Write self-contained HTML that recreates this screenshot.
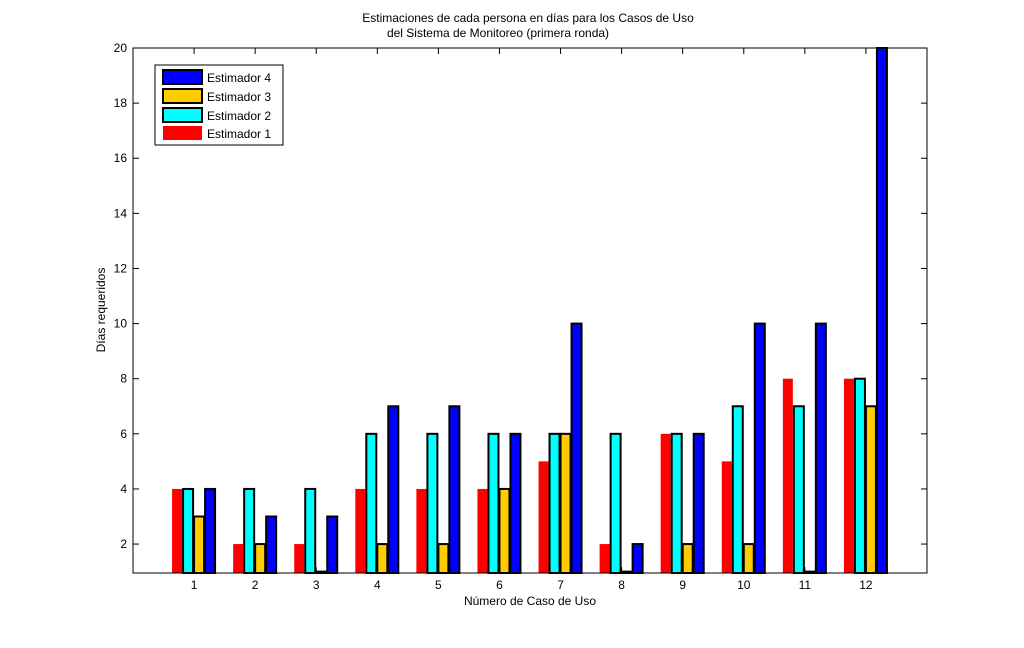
<!DOCTYPE html>
<html><head><meta charset="utf-8"><style>
body{margin:0;background:#fff;}
text{font-family:"Liberation Sans",sans-serif;font-size:12px;fill:#000;}
</style></head><body>
<svg id="chart" width="1024" height="643" xmlns="http://www.w3.org/2000/svg">
<rect width="1024" height="643" fill="#fff"/>
<text x="528" y="22" text-anchor="middle">Estimaciones de cada persona en días para los Casos de Uso</text>
<text x="498" y="37" text-anchor="middle">del Sistema de Monitoreo (primera ronda)</text>
<g id="bars"></g>
<g id="axes"></g>
<text x="530" y="605" text-anchor="middle">Número de Caso de Uso</text>
<text transform="translate(105,310) rotate(-90)" text-anchor="middle">Días requeridos</text>
<g>
<rect x="155" y="65" width="128" height="80" fill="#fff" stroke="#000" stroke-width="1"/>
<rect x="163" y="70" width="39" height="14" fill="#0000ff" stroke="#000" stroke-width="2"/>
<text x="207" y="82">Estimador 4</text>
<rect x="163" y="89" width="39" height="14" fill="#ffcc00" stroke="#000" stroke-width="2"/>
<text x="207" y="101">Estimador 3</text>
<rect x="163" y="108" width="39" height="14" fill="#00ffff" stroke="#000" stroke-width="2"/>
<text x="207" y="120">Estimador 2</text>
<rect x="163" y="126" width="39" height="14" fill="#ff0000"/>
<text x="207" y="138">Estimador 1</text>
</g>
</svg>
<script>
const categories=[1,2,3,4,5,6,7,8,9,10,11,12];
const est1=[4,2,2,4,4,4,5,2,6,5,8,8];
const est2=[4,4,4,6,6,6,6,6,6,7,7,8];
const est3=[3,2,1,2,2,4,6,1,2,2,1,7];
const est4=[4,3,3,7,7,6,10,2,6,10,10,20];
const yTicks=[2,4,6,8,10,12,14,16,18,20];
const L=133,R=927,T=48,B=573;
const xs=v=>L+(v-0)/(13-0)*(R-L);
const ys=v=>B-(v-0.95)/(20-0.95)*(B-T);
const NS='http://www.w3.org/2000/svg';
const bars=document.getElementById('bars'),axes=document.getElementById('axes');
function mk(tag,attrs,parent){const e=document.createElementNS(NS,tag);for(const k in attrs)e.setAttribute(k,attrs[k]);parent.appendChild(e);return e;}
const series=[[est1,'#ff0000',-22,false,'estimador-1'],[est2,'#00ffff',-11,true,'estimador-2'],[est3,'#ffcc00',0,true,'estimador-3'],[est4,'#0000ff',11,true,'estimador-4']];
categories.forEach((c,i)=>{
  series.forEach(s=>{
    const v=Math.min(s[0][i],20);
    const x=xs(c)+s[2],y=ys(v);
    const r=mk('rect',{x:x,y:y,width:10,height:Math.max(B-y,0),fill:s[1]},bars);
    if(s[3]){r.setAttribute('stroke','#000');r.setAttribute('stroke-width','2');}
    
    
  });
});
const frame=mk('rect',{x:L,y:T,width:R-L,height:B-T,fill:'none',stroke:'#000','stroke-width':1},axes);


categories.forEach(c=>{
  const x=xs(c);
  mk('line',{x1:x,x2:x,y1:B,y2:B-6,stroke:'#000'},axes);
  mk('line',{x1:x,x2:x,y1:T,y2:T+6,stroke:'#000'},axes);
  const t=mk('text',{x:x,y:B+16,'text-anchor':'middle'},axes);t.textContent=c;
  
  
});
yTicks.forEach(v=>{
  const y=ys(v);
  mk('line',{x1:L,x2:L+6,y1:y,y2:y,stroke:'#000'},axes);
  mk('line',{x1:R,x2:R-6,y1:y,y2:y,stroke:'#000'},axes);
  const t=mk('text',{x:L-6,y:y+4,'text-anchor':'end'},axes);t.textContent=v;
  
  
});
</script>
</body></html>
